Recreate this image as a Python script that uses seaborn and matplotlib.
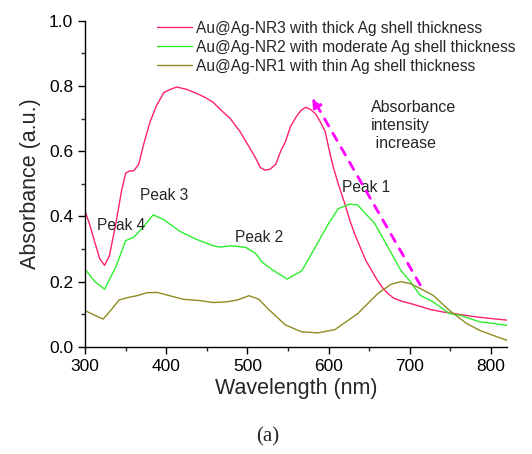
import pandas as pd
import matplotlib
matplotlib.use("Agg")
import matplotlib.pyplot as plt
import seaborn as sns

# Au@Ag-NR3 (thick shell)
wl_nr3 = [300, 305, 312, 318, 324, 330, 338, 345, 350, 355, 360, 366, 372, 380, 388, 397,
          405, 413, 425, 438, 448, 458, 468, 479, 491, 503, 510, 516, 522, 528, 535, 541,
          547, 553, 560, 566, 572, 578, 584, 590, 596, 600, 606, 612, 620, 626, 632, 640,
          646, 653, 660, 667, 673, 680, 690, 701, 712, 725, 741, 760, 782, 800, 820]
abs_nr3 = [0.415, 0.38, 0.32, 0.27, 0.25, 0.28, 0.38, 0.48, 0.533, 0.54, 0.54, 0.56, 0.62,
           0.69, 0.74, 0.78, 0.79, 0.797, 0.79, 0.777, 0.765, 0.75, 0.725, 0.70, 0.66, 0.61,
           0.58, 0.55, 0.542, 0.545, 0.56, 0.60, 0.63, 0.675, 0.705, 0.725, 0.735, 0.728,
           0.715, 0.69, 0.66, 0.613, 0.55, 0.50, 0.44, 0.39, 0.348, 0.30, 0.265, 0.235,
           0.205, 0.18, 0.164, 0.15, 0.14, 0.133, 0.125, 0.115, 0.107, 0.10, 0.092, 0.087, 0.082]

# Au@Ag-NR2 (moderate shell)
wl_nr2 = [300, 312, 324, 338, 350, 360, 372, 384, 397, 417, 437, 458, 466, 480, 498, 510,
          518, 531, 549, 567, 584, 600, 612, 626, 636, 657, 673, 689, 701, 713, 729, 749,
          762, 786, 802, 820]
abs_nr2 = [0.238, 0.2, 0.177, 0.246, 0.326, 0.336, 0.369, 0.405, 0.39, 0.354, 0.33, 0.31,
           0.306, 0.31, 0.305, 0.287, 0.26, 0.236, 0.208, 0.233, 0.307, 0.378, 0.424, 0.438,
           0.435, 0.378, 0.307, 0.235, 0.20, 0.158, 0.138, 0.102, 0.097, 0.077, 0.072, 0.066]

# Au@Ag-NR1 (thin shell)
wl_nr1 = [300, 322, 332, 342, 354, 364, 376, 389, 401, 421, 441, 458, 474, 488, 502, 514,
          527, 547, 567, 587, 608, 636, 661, 677, 689, 701, 713, 729, 749, 770, 786, 802, 820]
abs_nr1 = [0.111, 0.085, 0.113, 0.144, 0.152, 0.157, 0.166, 0.167, 0.159, 0.146, 0.142,
           0.136, 0.138, 0.144, 0.157, 0.146, 0.113, 0.067, 0.046, 0.043, 0.053, 0.102,
           0.164, 0.192, 0.20, 0.194, 0.179, 0.158, 0.112, 0.072, 0.051, 0.036, 0.02]

labels = ["Au@Ag-NR3 with thick Ag shell thickness",
          "Au@Ag-NR2 with moderate Ag shell thickness",
          "Au@Ag-NR1 with thin Ag shell thickness"]
colors = ["#FF2070", "#2EEE2E", "#8E8C20"]

peak_names = ["Peak 1", "Peak 2", "Peak 3", "Peak 4"]
peak_pos = [(646, 0.488), (514, 0.334), (397, 0.463), (344, 0.371)]

df = pd.concat([
    pd.DataFrame({"wl": wl_nr3, "absorbance": abs_nr3, "sample": labels[0]}),
    pd.DataFrame({"wl": wl_nr2, "absorbance": abs_nr2, "sample": labels[1]}),
    pd.DataFrame({"wl": wl_nr1, "absorbance": abs_nr1, "sample": labels[2]}),
])

sns.set_style("ticks")
plt.rcParams["font.family"] = ["Liberation Sans", "DejaVu Sans"]

fig = plt.figure(figsize=(5.32, 4.54), dpi=100)
ax = fig.add_axes([0.16, 0.236, 0.793, 0.718])

sns.lineplot(data=df, x="wl", y="absorbance", hue="sample", palette=dict(zip(labels, colors)),
             hue_order=labels, sort=False, lw=1.0, ax=ax, legend=False)

ax.set_xlim(300, 820)
ax.set_ylim(0, 1.0)
ax.set_xticks([300, 400, 500, 600, 700, 800])
ax.set_xticks(range(350, 820, 100), minor=True)
ax.set_yticks([0, 0.2, 0.4, 0.6, 0.8, 1.0])
ax.set_yticks([0.1, 0.3, 0.5, 0.7, 0.9], minor=True)
ax.yaxis.set_major_formatter(matplotlib.ticker.FormatStrFormatter("%.1f"))
ax.tick_params(which="major", direction="out", length=5, width=1, labelsize=12.5, colors="black")
ax.tick_params(which="minor", direction="out", length=3, width=1)
sns.despine(ax=ax)
for s in ["left", "bottom"]:
    ax.spines[s].set_color("black")
    ax.spines[s].set_linewidth(1)

ax.set_xlabel("Wavelength (nm)", fontsize=15.5, labelpad=3)
ax.set_ylabel("Absorbance (a.u.)", fontsize=15.5, labelpad=6)

handles = [plt.Line2D([], [], color=c, lw=1) for c in colors]
ax.legend(handles, labels, loc="upper left", bbox_to_anchor=(0.171, 1.0), frameon=False,
          fontsize=11.2, handlelength=2.25, handletextpad=0.26, labelspacing=0.25,
          borderpad=0, borderaxespad=0)

for name, (px, py) in zip(peak_names, peak_pos):
    ax.text(px, py, name, fontsize=11.2, ha="center", va="center")

ax.text(652, 0.678, "Absorbance\nintensity\n increase", fontsize=11.5, ha="left", va="center",
        linespacing=1.25)

# dashed arrow showing intensity increase
tail = (713, 0.19)
tip = (580, 0.765)
ax.annotate("", xy=tip, xytext=tail,
            arrowprops=dict(arrowstyle="-|>", color="#FF00FF", lw=2, linestyle=(0, (3, 3)),
                            mutation_scale=14, shrinkA=0, shrinkB=0))

fig.text(0.503, 0.037, "(a)", fontsize=15, ha="center", va="center", family="Liberation Serif")

fig.savefig("out.png", dpi=100)
